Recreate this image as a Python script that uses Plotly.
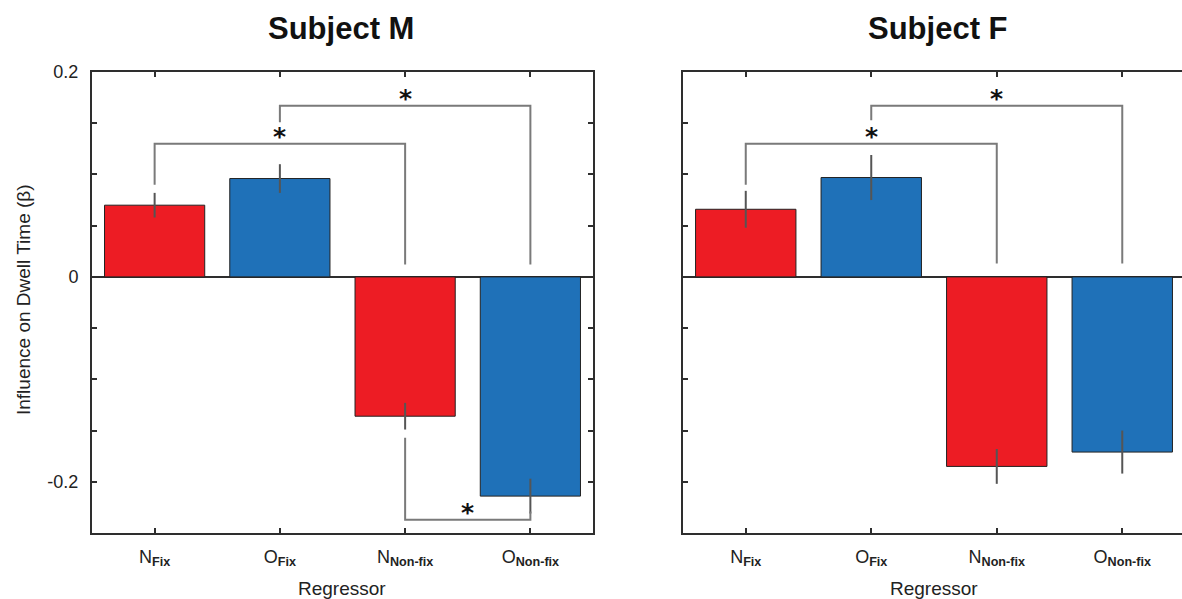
import plotly.graph_objects as go

# Regressors and their tick labels
regressors = ["N_Fix", "O_Fix", "N_Non-fix", "O_Non-fix"]
tick_labels = [
    "N<sub><b>Fix</b></sub>",
    "O<sub><b>Fix</b></sub>",
    "N<sub><b>Non-fix</b></sub>",
    "O<sub><b>Non-fix</b></sub>",
]

# Regression weights (beta) and standard errors per subject
subject_m_beta = [0.070, 0.096, -0.136, -0.214]
subject_m_err = [0.012, 0.014, 0.013, 0.017]
subject_f_beta = [0.066, 0.097, -0.185, -0.171]
subject_f_err = [0.018, 0.022, 0.017, 0.021]

# Significance brackets: (from, to, bracket level, end of leg at "from", end of leg at "to")
subject_m_brackets = [
    (0, 2, 0.130, 0.090, 0.012),
    (1, 3, 0.167, 0.151, 0.012),
    (2, 3, -0.237, -0.157, -0.229),
]
subject_f_brackets = [
    (0, 2, 0.130, 0.090, 0.013),
    (1, 3, 0.167, 0.153, 0.013),
]

y_tick_vals = [-0.2, 0, 0.2]
y_tick_text = ["-0.2", "0", "0.2"]
y_minor_step = 0.05

bar_colors = ["#ED1C24", "#1F71B8", "#ED1C24", "#1F71B8"]

W, H = 1182, 599
FONT = "Liberation Sans, Arial, sans-serif"
AXIS_COLOR = "#2e2e2e"
BRACKET_COLOR = "#7a7a7a"


def px_x(p):
    return p / W


def px_y(p):
    return 1 - p / H


x_pos = list(range(len(regressors)))
fig = go.Figure()

panels = [
    ("x", "y", subject_m_beta, subject_m_err, subject_m_brackets),
    ("x2", "y2", subject_f_beta, subject_f_err, subject_f_brackets),
]

annotations = []
for xa, ya, beta, err, brackets in panels:
    fig.add_trace(go.Bar(
        x=x_pos, y=beta, xaxis=xa, yaxis=ya, width=0.8,
        marker=dict(color=bar_colors, line=dict(color="#222222", width=1)),
        error_y=dict(type="data", array=err, visible=True,
                     color="#555555", thickness=2, width=0),
        hoverinfo="skip",
    ))
    for i, j, level, leg_i, leg_j in brackets:
        fig.add_trace(go.Scatter(
            x=[x_pos[i], x_pos[i], x_pos[j], x_pos[j]],
            y=[leg_i, level, level, leg_j],
            xaxis=xa, yaxis=ya, mode="lines",
            line=dict(color=BRACKET_COLOR, width=2),
            hoverinfo="skip",
        ))
        annotations.append(dict(
            x=(x_pos[i] + x_pos[j]) / 2, y=level, xref=xa, yref=ya,
            text="<b>*</b>", showarrow=False, yanchor="middle", yshift=7,
            font=dict(family="DejaVu Sans, sans-serif", size=25, color="#111111"),
        ))

minor_ticks = dict(ticks="inside", ticklen=5, tickwidth=1.5, tickcolor=AXIS_COLOR,
                   dtick=y_minor_step, tick0=0, showgrid=False)

common_x = dict(
    range=[-0.5, 3.5], tickvals=x_pos, ticktext=tick_labels,
    ticks="inside", ticklen=5, tickwidth=1.5, tickcolor=AXIS_COLOR,
    showline=True, linewidth=2, linecolor=AXIS_COLOR, mirror="ticks",
    showgrid=False, zeroline=False, automargin=False,
    tickfont=dict(family=FONT, size=18, color="#222222"),
    ticklabelstandoff=6, fixedrange=True,
)
common_y = dict(
    range=[-0.25, 0.2], tickvals=y_tick_vals, ticktext=y_tick_text,
    ticks="inside", ticklen=5, tickwidth=1.5, tickcolor=AXIS_COLOR,
    minor=minor_ticks,
    showline=True, linewidth=2, linecolor=AXIS_COLOR,
    showgrid=False, zeroline=True, zerolinecolor=AXIS_COLOR, zerolinewidth=1.5,
    automargin=False, tickfont=dict(family=FONT, size=18, color="#222222"),
    ticklabelstandoff=8, fixedrange=True,
)

y_domain = [px_y(533), px_y(72)]

fig.update_layout(
    width=W, height=H,
    margin=dict(l=0, r=0, t=0, b=0),
    paper_bgcolor="white", plot_bgcolor="white",
    showlegend=False, font=dict(family=FONT),
    bargap=0.2,
    xaxis=dict(common_x, domain=[px_x(92), px_x(593)], anchor="y"),
    yaxis=dict(common_y, domain=y_domain, anchor="x", mirror="ticks"),
    xaxis2=dict(common_x, domain=[px_x(683), 1.0], anchor="y2",
                range=[-0.5, 3.476]),
    yaxis2=dict(common_y, domain=y_domain, anchor="x2", mirror=False,
                showticklabels=False),
    yaxis3=dict(range=[-0.25, 0.2], tickvals=y_tick_vals, overlaying="y2",
                anchor="x2", side="right", showline=False, ticks="inside",
                ticklen=5, tickwidth=1.5, tickcolor=AXIS_COLOR, minor=minor_ticks,
                showticklabels=False, showgrid=False, zeroline=False,
                fixedrange=True),
)

# Panel titles and axis titles
for text, cx in [("Subject M", 341), ("Subject F", 938)]:
    annotations.append(dict(
        x=px_x(cx), y=px_y(28), xref="paper", yref="paper", text=f"<b>{text}</b>",
        showarrow=False, xanchor="center", yanchor="middle",
        font=dict(family=FONT, size=31, color="#111111"),
    ))
for cx in [342, 934]:
    annotations.append(dict(
        x=px_x(cx), y=px_y(588), xref="paper", yref="paper", text="Regressor",
        showarrow=False, xanchor="center", yanchor="middle",
        font=dict(family=FONT, size=19, color="#222222"),
    ))
annotations.append(dict(
    x=px_x(23), y=px_y(300), xref="paper", yref="paper",
    text="Influence on Dwell Time (β)", textangle=-90,
    showarrow=False, xanchor="center", yanchor="middle",
    font=dict(family=FONT, size=19, color="#222222"),
))

fig.update_layout(annotations=annotations)
fig.write_html("out.html")
